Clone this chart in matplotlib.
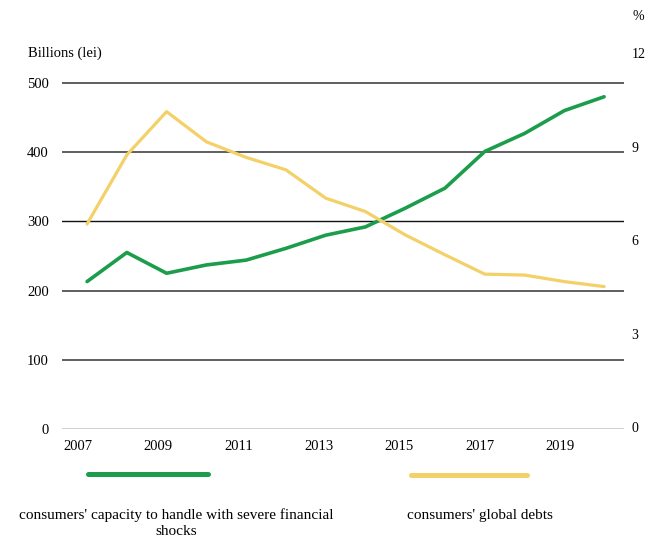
import matplotlib
matplotlib.use("Agg")
import matplotlib.pyplot as plt
from matplotlib.lines import Line2D

# series values
years = list(range(2007, 2021))
capacity = [213, 255, 225, 237, 244, 261, 280, 292, 319, 348, 401, 427, 460, 480]
debts = [6.52, 8.74, 10.13, 9.16, 8.66, 8.26, 7.35, 6.92, 6.17, 5.53, 4.91, 4.88, 4.67, 4.51]

left_ticks = [0, 100, 200, 300, 400, 500]
right_ticks = [0, 3, 6, 9, 12]
year_labels = [2007, 2009, 2011, 2013, 2015, 2017, 2019]

GREEN = "#1c9d4c"
YELLOW = "#f3d068"

plt.rcParams["font.family"] = ["Liberation Serif", "DejaVu Serif"]
plt.rcParams["font.size"] = 10.5

fig = plt.figure(figsize=(6.46, 5.39), dpi=100)
ax = fig.add_axes([62 / 646, 110 / 539, 562 / 646, 389 / 539])

############################################################
# left axis: billions, with horizontal grid
############################################################
ax.plot(years, capacity, color=GREEN, lw=2.6, solid_capstyle="round", zorder=3)
ax.set_xlim(2006.37, 2020.5)
ax.set_ylim(0, 562)
ax.set_yticks(left_ticks)
ax.set_xticks([])
ax.tick_params(axis="y", length=0, pad=9.5, labelsize=10.5)
for s in ax.spines.values():
    s.set_visible(False)
ax.grid(axis="y", color="#5e5e5e", lw=1.4)
grid = ax.get_ygridlines()
grid[0].set_color("#cfcfcf")
grid[3].set_color("#111111")
grid[3].set_linewidth(1.0)
ax.set_axisbelow(True)

############################################################
# right axis: percent
############################################################
ax2 = ax.twinx()
ax2.plot(years, debts, color=YELLOW, lw=2.3, solid_capstyle="round", zorder=3)
ax2.set_ylim(-0.064, 12.43)
ax2.set_yticks(right_ticks)
ax2.tick_params(axis="y", length=0, pad=5.5, labelsize=10)
for s in ax2.spines.values():
    s.set_visible(False)

############################################################
# year labels on their own scale
############################################################
axl = ax.twiny()
axl.xaxis.set_ticks_position("bottom")
axl.set_xlim(2006.609, 2006.609 + 562 / 40.2)
axl.set_xticks(year_labels)
axl.tick_params(axis="x", length=0, pad=8, labelsize=10.5)
for s in axl.spines.values():
    s.set_visible(False)

fig.text(28 / 646, 1 - 53 / 539, "Billions (lei)", fontsize=10.5, va="center", ha="left")
fig.text(638 / 646, 1 - 17 / 539, "%", fontsize=10, va="center", ha="center")

############################################################
# legend under the plot
############################################################
fig.add_artist(Line2D([88 / 646, 208 / 646], [1 - 474 / 539] * 2, color=GREEN,
                      lw=3.6, solid_capstyle="round"))
fig.add_artist(Line2D([411 / 646, 527 / 646], [1 - 475 / 539] * 2, color=YELLOW,
                      lw=3.6, solid_capstyle="round"))
fig.text(176 / 646, 1 - 523 / 539,
         "consumers' capacity to handle with severe financial\nshocks",
         ha="center", va="center", fontsize=11, linespacing=1.3)
fig.text(480 / 646, 1 - 515 / 539, "consumers' global debts",
         ha="center", va="center", fontsize=11)

fig.savefig("out.png", dpi=100)
